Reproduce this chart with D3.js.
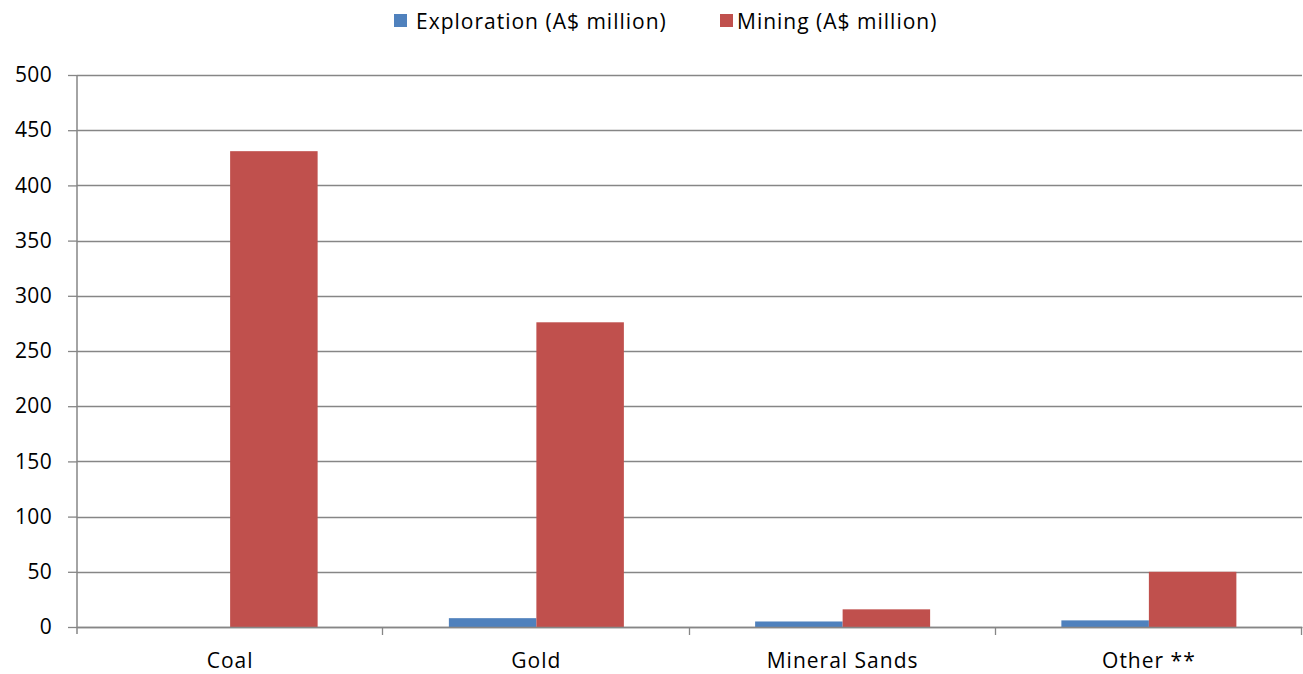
<!DOCTYPE html>
<html>
<head>
<meta charset="utf-8">
<script src="https://cdn.jsdelivr.net/npm/d3@7"></script>
<style>
  html, body { margin: 0; padding: 0; background: #fff; }
  svg { display: block; font-family: "Open Sans", "Noto Sans", sans-serif; }
</style>
</head>
<body>
<svg id="chart" width="1303" height="674"></svg>
<script>
// Commodity categories and spending by activity (A$ million)
const categories = ["Coal", "Gold", "Mineral Sands", "Other **"];
const seriesNames = ["Exploration (A$ million)", "Mining (A$ million)"];
const exploration = [0, 8, 5, 6];
const mining = [431, 276, 16, 50];
const yTicks = [0, 50, 100, 150, 200, 250, 300, 350, 400, 450, 500];
const colors = ["#4F81BD", "#C0504D"];

const svg = d3.select("#chart");
const margin = { left: 77, right: 1302, top: 75, bottom: 627 };
const fontSize = 21;

const x = d3.scaleBand().domain(categories).range([margin.left, margin.right]);
const inner = d3.scaleBand().domain(seriesNames).range([0, x.bandwidth()])
  .paddingInner(0).paddingOuter(0.75);
const y = d3.scaleLinear().domain([0, 500]).range([margin.bottom, margin.top]);

// Horizontal gridlines
svg.append("g")
  .selectAll("line")
  .data(yTicks)
  .join("line")
  .attr("x1", margin.left).attr("x2", margin.right)
  .attr("y1", d => Math.round(y(d)) + 0.5).attr("y2", d => Math.round(y(d)) + 0.5)
  .attr("stroke", "#868686").attr("stroke-width", 1.3);

// Bars
const rows = categories.map((c, i) => ({ cat: c, vals: [exploration[i], mining[i]] }));
svg.append("g")
  .selectAll("g")
  .data(rows)
  .join("g")
  .attr("transform", d => `translate(${x(d.cat)},0)`)
  .selectAll("rect")
  .data(d => d.vals.map((v, j) => ({ name: seriesNames[j], v, j })))
  .join("rect")
  .attr("x", d => inner(d.name))
  .attr("width", inner.bandwidth())
  .attr("y", d => y(d.v))
  .attr("height", d => y(0) - y(d.v))
  .attr("fill", d => colors[d.j]);

// Y axis
const yAxis = d3.axisLeft(y).tickValues(yTicks).tickSize(9).tickPadding(16);
const gy = svg.append("g").attr("transform", `translate(${margin.left},0)`).call(yAxis);
gy.select(".domain").attr("stroke", "#868686").attr("stroke-width", 1.5)
  .attr("d", `M0,${margin.top}V${margin.bottom + 7}`);
gy.selectAll(".tick line").attr("stroke", "#868686").attr("stroke-width", 1.3);
gy.selectAll(".tick text").attr("font-size", fontSize).attr("fill", "#000")
  .attr("letter-spacing", 0.3)
  .attr("font-family", "Open Sans, Noto Sans, sans-serif");

// X axis
const xAxis = d3.axisBottom(x).tickSize(0);
const gx = svg.append("g").attr("transform", `translate(0,${margin.bottom})`).call(xAxis);
gx.select(".domain").attr("stroke", "#868686").attr("stroke-width", 1.5);
gx.selectAll(".tick text").attr("font-size", fontSize).attr("fill", "#000")
  .attr("letter-spacing", 1)
  .attr("y", 41).attr("dy", 0)
  .attr("font-family", "Open Sans, Noto Sans, sans-serif");
// Category separator ticks
gx.append("g").selectAll("line")
  .data(categories.map(c => x(c) + x.bandwidth()))
  .join("line")
  .attr("x1", d => Math.round(d) - 0.5).attr("x2", d => Math.round(d) - 0.5)
  .attr("y1", 0).attr("y2", 8)
  .attr("stroke", "#868686").attr("stroke-width", 1.3);

// Legend
const legendItems = [
  { name: seriesNames[0], color: colors[0], sx: 394, tx: 416 },
  { name: seriesNames[1], color: colors[1], sx: 720, tx: 737 }
];
const lg = svg.append("g");
legendItems.forEach(d => {
  lg.append("rect").attr("x", d.sx).attr("y", 14).attr("width", 13).attr("height", 13)
    .attr("fill", d.color);
  lg.append("text").attr("x", d.tx).attr("y", 29).attr("font-size", fontSize)
    .attr("letter-spacing", 1)
    .attr("fill", "#000").text(d.name);
});
</script>
</body>
</html>
